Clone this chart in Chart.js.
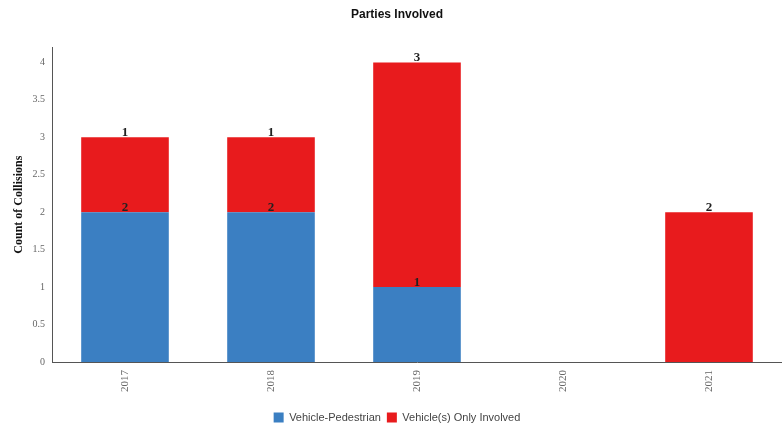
<!DOCTYPE html>
<html>
<head>
<meta charset="utf-8">
<script src="https://cdn.jsdelivr.net/npm/chart.js@4/dist/chart.umd.min.js"></script>
<style>
  html, body { margin: 0; padding: 0; background: #fff; }
  #wrap { width: 782px; height: 428px; }
</style>
</head>
<body>
<div id="wrap"><canvas id="chart" width="782" height="428"></canvas></div>
<script>
const years = ['2017', '2018', '2019', '2020', '2021'];
const pedestrian = [2, 2, 1, 0, 0];
const vehicleOnly = [1, 1, 3, 0, 2];
const yTicks = [0, 0.5, 1, 1.5, 2, 2.5, 3, 3.5, 4];

// value labels drawn just above each segment's top edge
const segmentLabels = {
    id: 'segmentLabels',
    afterDatasetsDraw(chart) {
        const ctx = chart.ctx;
        ctx.save();
        ctx.font = 'bold 13px "Liberation Serif", serif';
        ctx.fillStyle = '#222';
        ctx.textAlign = 'center';
        ctx.textBaseline = 'bottom';
        chart.data.datasets.forEach((ds, i) => {
            chart.getDatasetMeta(i).data.forEach((bar, j) => {
                if (!ds.data[j]) return;
                ctx.fillText(String(ds.data[j]), bar.x, bar.y + 2);
            });
        });
        ctx.restore();
    }
};

new Chart(document.getElementById('chart'), {
    type: 'bar',
    data: {
        labels: years,
        datasets: [
            {
                label: 'Vehicle-Pedestrian',
                data: pedestrian,
                backgroundColor: '#3b7fc2',
                categoryPercentage: 0.6,
                barPercentage: 1
            },
            {
                label: 'Vehicle(s) Only Involved',
                data: vehicleOnly,
                backgroundColor: '#e81b1d',
                categoryPercentage: 0.6,
                barPercentage: 1
            }
        ]
    },
    options: {
        responsive: false,
        animation: false,
        layout: { padding: { left: 12, right: 0, top: 0, bottom: -5 } },
        plugins: {
            title: {
                display: true,
                text: 'Parties Involved',
                color: '#111',
                font: { family: 'Arial, "Liberation Sans", sans-serif', size: 12, weight: 'bold' },
                padding: { top: 7, bottom: 26 }
            },
            legend: {
                position: 'bottom',
                labels: {
                    boxWidth: 10,
                    boxHeight: 10,
                    color: '#444',
                    font: { family: 'Arial, "Liberation Sans", sans-serif', size: 11 },
                    padding: 6
                }
            },
            tooltip: { enabled: false }
        },
        scales: {
            x: {
                stacked: true,
                afterFit(axis) { axis.height = 44; },
                grid: { display: false, drawTicks: true, tickLength: 4 },
                border: { color: '#555' },
                ticks: {
                    minRotation: 90,
                    maxRotation: 90,
                    color: '#666',
                    font: { family: '"Liberation Serif", serif', size: 11 },
                    padding: 4
                }
            },
            y: {
                stacked: true,
                min: 0,
                max: 4.2,
                afterBuildTicks(axis) {
                    axis.ticks = yTicks.map(v => ({ value: v }));
                },
                afterFit(axis) { axis.width = 40; },
                grid: { display: false, drawTicks: true, tickLength: 5 },
                border: { color: '#555' },
                ticks: {
                    color: '#666',
                    font: { family: '"Liberation Serif", serif', size: 10 },
                    padding: 2,
                    callback: v => String(v)
                },
                title: {
                    display: true,
                    text: 'Count of Collisions',
                    color: '#111',
                    font: { family: '"Liberation Serif", serif', size: 12, weight: 'bold' },
                    padding: { top: 0, bottom: 4 }
                }
            }
        }
    },
    plugins: [segmentLabels]
});
</script>
</body>
</html>
